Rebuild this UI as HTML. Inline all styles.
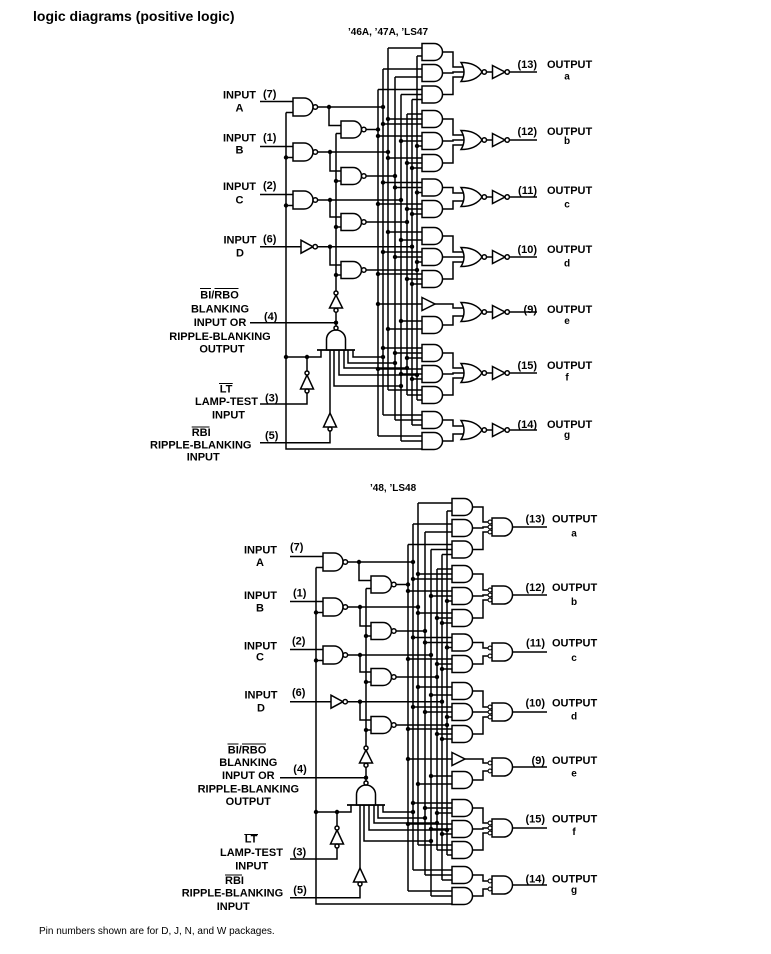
<!DOCTYPE html>
<html><head><meta charset="utf-8"><style>
html,body{margin:0;padding:0;background:#fff;}
svg{display:block;}
text{font-family:"Liberation Sans",Arial,sans-serif;font-weight:bold;font-size:11px;fill:#000;}
.r{font-weight:normal;font-size:10px;}
.s{font-size:10px;}
</style></head><body>
<svg width="771" height="954" viewBox="0 0 771 954" xmlns="http://www.w3.org/2000/svg">
<defs>
<path id="g_and" d="M0,-8.5H12A8.5,8.5 0 0 1 12,8.5H0Z"/>
<path id="g_nand1" d="M0,-9H11A9,9 0 0 1 11,9H0Z"/>
<path id="g_nor" d="M0,-9.5Q6,0 0,9.5Q15,9.5 21,0Q15,-9.5 0,-9.5Z"/>
<path id="g_inv" d="M0,-6.5L12.5,0L0,6.5Z"/>
<path id="g_and2" d="M0,-9H11.5A9,9 0 0 1 11.5,9H0Z"/>
<g id="core">
<path fill="none" stroke="#000" stroke-width="1.5" d="
M260,101.5H293 M286,112.5H293 M286,112.5V449H422 M260,146.5H293 M286,157.5H293 M260,194.5H293 M286,205.5H293 M260,246.7H301
M318,107H383 M329,107V125.5H341 M318,152H388 M330,152V171H341 M318,200H401 M330,200V217H341 M317.5,246.7H412 M330,246.7V265H341
M336,133.5H341 M336,133.5V291 M336,181H341 M336,227H341 M336,275H341
M366.5,129.5H378 M366.5,176H395 M366.5,222H407 M366.5,270H417
M336,310V326 M250,322.7H336 M317,350H355
M321,350V357H286 M330,350V413 M334,350V386H401 M339,350V375H417 M344,350V368H407 M348,350V363H395 M353,350V357H383
M307,357V371 M307,393V404H260 M330,429V442.7H260
M378,89.5V436 M383,69V415 M388,48V390 M395,77V420 M401,94.5V441 M407,114V395 M412,99.5V425 M417,56V400
M388,48H422 M417,56H422 M383,69H422 M395,77H422 M378,89.5H422 M401,94.5H422 M412,99.5H422
M407,114H422 M388,119H422 M383,124H422 M378,136H422 M401,141H422 M417,146H422 M388,158H422 M407,163H422 M412,168H422
M383,182.5H422 M395,187.5H422 M417,192.5H422 M378,204H422 M407,209H422 M412,214H422
M388,232H422 M401,240H422 M383,252H422 M395,257H422 M417,262H422 M378,274H422 M407,279H422 M412,284H422
M378,304H422 M401,321H422 M388,329H422
M383,348H422 M395,353H422 M407,358H422 M378,369H422 M401,374H422 M412,379H422 M388,390H422 M407,395H422 M417,400H422
M383,415H422 M395,420H422 M412,425H422 M378,436H422 M401,441H422
M443,52H453V67H458 M443,73H453V72H458 M443,94.5H453V77H458
M443,119H453V135H458 M443,141H453V140H458 M443,163H453V145H458
M443,187.5H453V193H458 M443,209H453V201H458
M443,236H453V252H458 M443,257H458 M443,279H453V262H458
M435,304H453V308H458 M443,325H453V316H458
M443,353H453V368H458 M443,374H453V373H458 M443,395H453V378H458
M443,420H453V426H458 M443,441H453V434H458"/>
<g fill="#fff" stroke="#000" stroke-width="1.5">
<use href="#g_nand1" x="293" y="107"/><use href="#g_nand1" x="293" y="152"/><use href="#g_nand1" x="293" y="200"/>
<circle cx="315.3" cy="107" r="2.3"/><circle cx="315.3" cy="152" r="2.3"/><circle cx="315.3" cy="200" r="2.3"/>
<path d="M301,240.2L313,246.7L301,253.2Z"/><circle cx="315.2" cy="246.7" r="2.2"/>
<use href="#g_and" x="341" y="129.5"/><use href="#g_and" x="341" y="176"/><use href="#g_and" x="341" y="222"/><use href="#g_and" x="341" y="270"/>
<circle cx="363.8" cy="129.5" r="2.3"/><circle cx="363.8" cy="176" r="2.3"/><circle cx="363.8" cy="222" r="2.3"/><circle cx="363.8" cy="270" r="2.3"/>
<use href="#g_and" x="422" y="52"/><use href="#g_and" x="422" y="73"/><use href="#g_and" x="422" y="94.5"/>
<use href="#g_and" x="422" y="119"/><use href="#g_and" x="422" y="141"/><use href="#g_and" x="422" y="163"/>
<use href="#g_and" x="422" y="187.5"/><use href="#g_and" x="422" y="209"/>
<use href="#g_and" x="422" y="236"/><use href="#g_and" x="422" y="257"/><use href="#g_and" x="422" y="279"/>
<path d="M422,297.5L435,304L422,310.5Z"/><use href="#g_and" x="422" y="325"/>
<use href="#g_and" x="422" y="353"/><use href="#g_and" x="422" y="374"/><use href="#g_and" x="422" y="395"/>
<use href="#g_and" x="422" y="420"/><use href="#g_and" x="422" y="441"/>
<path d="M329.5,308L342.5,308L336,295Z"/><circle cx="336" cy="293" r="2"/><circle cx="336" cy="310.2" r="2"/>
<path d="M326.5,350V339.5A9.5,9.5 0 0 1 345.5,339.5V350Z"/><circle cx="336" cy="328" r="2"/>
<path d="M300.5,389L313.5,389L307,375Z"/><circle cx="307" cy="373" r="2"/><circle cx="307" cy="391" r="2"/>
<path d="M323.5,427L336.5,427L330,413Z"/><circle cx="330" cy="429" r="2"/>
</g>
<path fill="none" stroke="#000" stroke-width="1.5" d="M317,350H355"/>
<g fill="#000">
<circle cx="286" cy="157.5" r="2.2"/><circle cx="286" cy="205.5" r="2.2"/><circle cx="329" cy="107" r="2.2"/><circle cx="383" cy="107" r="2.2"/>
<circle cx="330" cy="152" r="2.2"/><circle cx="388" cy="152" r="2.2"/><circle cx="330" cy="200" r="2.2"/><circle cx="401" cy="200" r="2.2"/>
<circle cx="330" cy="246.7" r="2.2"/><circle cx="412" cy="246.7" r="2.2"/><circle cx="336" cy="181" r="2.2"/><circle cx="336" cy="227" r="2.2"/>
<circle cx="336" cy="275" r="2.2"/><circle cx="378" cy="129.5" r="2.2"/><circle cx="395" cy="176" r="2.2"/><circle cx="407" cy="222" r="2.2"/>
<circle cx="417" cy="270" r="2.2"/><circle cx="336" cy="322.7" r="2.2"/><circle cx="307" cy="357" r="2.2"/><circle cx="286" cy="357" r="2.2"/>
<circle cx="401" cy="386" r="2.2"/><circle cx="417" cy="375" r="2.2"/><circle cx="407" cy="368" r="2.2"/><circle cx="395" cy="363" r="2.2"/><circle cx="383" cy="357" r="2.2"/>
<circle cx="388" cy="119" r="2.2"/><circle cx="383" cy="124" r="2.2"/><circle cx="378" cy="136" r="2.2"/><circle cx="401" cy="141" r="2.2"/>
<circle cx="417" cy="146" r="2.2"/><circle cx="388" cy="158" r="2.2"/><circle cx="407" cy="163" r="2.2"/><circle cx="412" cy="168" r="2.2"/>
<circle cx="383" cy="182.5" r="2.2"/><circle cx="395" cy="187.5" r="2.2"/><circle cx="417" cy="192.5" r="2.2"/><circle cx="378" cy="204" r="2.2"/>
<circle cx="407" cy="209" r="2.2"/><circle cx="412" cy="214" r="2.2"/><circle cx="388" cy="232" r="2.2"/><circle cx="401" cy="240" r="2.2"/>
<circle cx="383" cy="252" r="2.2"/><circle cx="395" cy="257" r="2.2"/><circle cx="417" cy="262" r="2.2"/><circle cx="378" cy="274" r="2.2"/>
<circle cx="407" cy="279" r="2.2"/><circle cx="412" cy="284" r="2.2"/><circle cx="378" cy="304" r="2.2"/><circle cx="401" cy="321" r="2.2"/>
<circle cx="388" cy="329" r="2.2"/><circle cx="383" cy="348" r="2.2"/><circle cx="395" cy="353" r="2.2"/><circle cx="407" cy="358" r="2.2"/>
<circle cx="378" cy="369" r="2.2"/><circle cx="401" cy="374" r="2.2"/><circle cx="412" cy="379" r="2.2"/>
</g>
</g>
</defs>

<rect width="771" height="954" fill="#fff"/>

<use href="#core"/>
<use href="#core" transform="translate(30,455)"/>

<path fill="none" stroke="#000" stroke-width="1.5" d="
M458,67H464M458,72H464M458,77H464 M458,135H464M458,140H464M458,145H464 M458,193H464M458,201H464
M458,252H464M458,257H464M458,262H464 M458,308H464M458,316H464 M458,368H464M458,373H464M458,378H464 M458,426H464M458,434H464
M486.5,72H492.5M509.4,72H537 M486.5,140H492.5M509.4,140H537 M486.5,197H492.5M509.4,197H537
M486.5,257H492.5M509.4,257H537 M486.5,312H492.5M509.4,312H537 M486.5,373H492.5M509.4,373H537 M486.5,430H492.5M509.4,430H537"/>
<g fill="#fff" stroke="#000" stroke-width="1.5">
<use href="#g_nor" x="461" y="72"/><use href="#g_nor" x="461" y="140"/><use href="#g_nor" x="461" y="197"/><use href="#g_nor" x="461" y="257"/>
<use href="#g_nor" x="461" y="312"/><use href="#g_nor" x="461" y="373"/><use href="#g_nor" x="461" y="430"/>
<circle cx="484.3" cy="72" r="2.2"/><circle cx="484.3" cy="140" r="2.2"/><circle cx="484.3" cy="197" r="2.2"/><circle cx="484.3" cy="257" r="2.2"/>
<circle cx="484.3" cy="312" r="2.2"/><circle cx="484.3" cy="373" r="2.2"/><circle cx="484.3" cy="430" r="2.2"/>
<use href="#g_inv" x="492.5" y="72"/><use href="#g_inv" x="492.5" y="140"/><use href="#g_inv" x="492.5" y="197"/><use href="#g_inv" x="492.5" y="257"/>
<use href="#g_inv" x="492.5" y="312"/><use href="#g_inv" x="492.5" y="373"/><use href="#g_inv" x="492.5" y="430"/>
<circle cx="507.2" cy="72" r="2.2"/><circle cx="507.2" cy="140" r="2.2"/><circle cx="507.2" cy="197" r="2.2"/><circle cx="507.2" cy="257" r="2.2"/>
<circle cx="507.2" cy="312" r="2.2"/><circle cx="507.2" cy="373" r="2.2"/><circle cx="507.2" cy="430" r="2.2"/>
</g>

<path fill="none" stroke="#000" stroke-width="1.5" d="
M512.5,527H547 M512.5,595H547 M512.5,652H547 M512.5,712H547 M512.5,767H547 M512.5,828H547 M512.5,885H547"/>
<g fill="#fff" stroke="#000" stroke-width="1.5">
<use href="#g_and2" x="492" y="527"/><use href="#g_and2" x="492" y="595"/><use href="#g_and2" x="492" y="652"/><use href="#g_and2" x="492" y="712"/>
<use href="#g_and2" x="492" y="767"/><use href="#g_and2" x="492" y="828"/><use href="#g_and2" x="492" y="885"/>
<g stroke-width="1.1">
<circle cx="490" cy="522" r="1.9"/><circle cx="490" cy="527" r="1.9"/><circle cx="490" cy="532" r="1.9"/>
<circle cx="490" cy="590" r="1.9"/><circle cx="490" cy="595" r="1.9"/><circle cx="490" cy="600" r="1.9"/>
<circle cx="490" cy="648" r="1.9"/><circle cx="490" cy="656" r="1.9"/>
<circle cx="490" cy="707" r="1.9"/><circle cx="490" cy="712" r="1.9"/><circle cx="490" cy="717" r="1.9"/>
<circle cx="490" cy="763" r="1.9"/><circle cx="490" cy="771" r="1.9"/>
<circle cx="490" cy="823" r="1.9"/><circle cx="490" cy="828" r="1.9"/><circle cx="490" cy="833" r="1.9"/>
<circle cx="490" cy="881" r="1.9"/><circle cx="490" cy="889" r="1.9"/>
</g>
</g>

<path fill="none" stroke="#000" stroke-width="1" d="
M200,288.5H211 M214.5,288.5H238.5 M219,383.5H232.7 M191.7,427H209.5
M227.5,744H238.5 M242,744H266 M244.3,834.5H258 M225,875H242"/>

<text x="33" y="21" style="font-size:14px">logic diagrams (positive logic)</text>
<text x="348" y="35" class="s">’46A, ’47A, ’LS47</text>
<text x="370" y="491" class="s">’48, ’LS48</text>
<text x="39" y="934" class="r">Pin numbers shown are for D, J, N, and W packages.</text>

<g text-anchor="middle">
<text x="239.5" y="98.3">INPUT</text><text x="239.5" y="111.7">A</text>
<text x="239.5" y="141.7">INPUT</text><text x="239.5" y="153.3">B</text>
<text x="239.5" y="190">INPUT</text><text x="239.5" y="203.3">C</text>
<text x="240" y="243.3">INPUT</text><text x="240" y="256.7">D</text>
<text x="219.5" y="298.3">BI/RBO</text>
<text x="220" y="312.3">BLANKING</text>
<text x="220" y="326">INPUT OR</text>
<text x="220" y="340">RIPPLE-BLANKING</text>
<text x="222" y="352.7">OUTPUT</text>
<text x="226" y="392.7">LT</text>
<text x="228.5" y="418.3">INPUT</text>
</g>
<text x="263" y="97.5">(7)</text>
<text x="263" y="141">(1)</text>
<text x="263" y="189">(2)</text>
<text x="263" y="242.5">(6)</text>
<text x="264" y="320">(4)</text>
<text x="195" y="405">LAMP-TEST</text>
<text x="265" y="401.7">(3)</text>
<text x="191.7" y="436">RBI</text>
<text x="265" y="439">(5)</text>
<text x="150" y="448.3">RIPPLE-BLANKING</text>
<text x="186.7" y="460.7">INPUT</text>

<g text-anchor="end">
<text x="537" y="68">(13)</text><text x="537" y="135">(12)</text><text x="537" y="194">(11)</text>
<text x="537" y="253">(10)</text><text x="537" y="313">(9)</text><text x="537" y="369">(15)</text><text x="537" y="428">(14)</text>
</g>
<text x="547" y="68">OUTPUT</text><text x="547" y="135">OUTPUT</text><text x="547" y="194">OUTPUT</text>
<text x="547" y="253">OUTPUT</text><text x="547" y="313">OUTPUT</text><text x="547" y="369">OUTPUT</text><text x="547" y="428">OUTPUT</text>
<g text-anchor="middle">
<text x="567" y="79.5" class="s">a</text><text x="567" y="144" class="s">b</text><text x="567" y="207.5" class="s">c</text>
<text x="567" y="266.7" class="s">d</text><text x="567" y="324" class="s">e</text><text x="567" y="380.7" class="s">f</text><text x="567" y="438" class="s">g</text>
</g>

<g text-anchor="middle">
<text x="260.5" y="553.3">INPUT</text><text x="260" y="566">A</text>
<text x="260.5" y="599">INPUT</text><text x="260" y="611.7">B</text>
<text x="260.5" y="649.3">INPUT</text><text x="260" y="660.7">C</text>
<text x="261" y="698.3">INPUT</text><text x="261" y="711.7">D</text>
<text x="247" y="753.3">BI/RBO</text>
<text x="248.3" y="766">BLANKING</text>
<text x="248.3" y="779">INPUT OR</text>
<text x="248.3" y="792.3">RIPPLE-BLANKING</text>
<text x="248.3" y="805">OUTPUT</text>
<text x="251" y="842.7">LT</text>
<text x="251.7" y="869.3">INPUT</text>
</g>
<text x="290" y="550.7">(7)</text>
<text x="293" y="596.7">(1)</text>
<text x="292" y="644.3">(2)</text>
<text x="292" y="696">(6)</text>
<text x="293.3" y="772.7">(4)</text>
<text x="220" y="856">LAMP-TEST</text>
<text x="292.7" y="855.7">(3)</text>
<text x="225" y="884">RBI</text>
<text x="293.3" y="893.3">(5)</text>
<text x="181.7" y="896.7">RIPPLE-BLANKING</text>
<text x="216.7" y="910">INPUT</text>

<g text-anchor="end">
<text x="545" y="522.3">(13)</text><text x="545" y="591">(12)</text><text x="545" y="646.7">(11)</text>
<text x="545" y="706.7">(10)</text><text x="545" y="764">(9)</text><text x="545" y="822.7">(15)</text><text x="545" y="882.7">(14)</text>
</g>
<text x="552" y="522.3">OUTPUT</text><text x="552" y="591">OUTPUT</text><text x="552" y="646.7">OUTPUT</text>
<text x="552" y="706.7">OUTPUT</text><text x="552" y="764">OUTPUT</text><text x="552" y="822.7">OUTPUT</text><text x="552" y="882.7">OUTPUT</text>
<g text-anchor="middle">
<text x="574" y="536.7" class="s">a</text><text x="574" y="605" class="s">b</text><text x="574" y="661" class="s">c</text>
<text x="574" y="719.3" class="s">d</text><text x="574" y="776.7" class="s">e</text><text x="574" y="835" class="s">f</text><text x="574" y="893" class="s">g</text>
</g>
</svg>
</body></html>
